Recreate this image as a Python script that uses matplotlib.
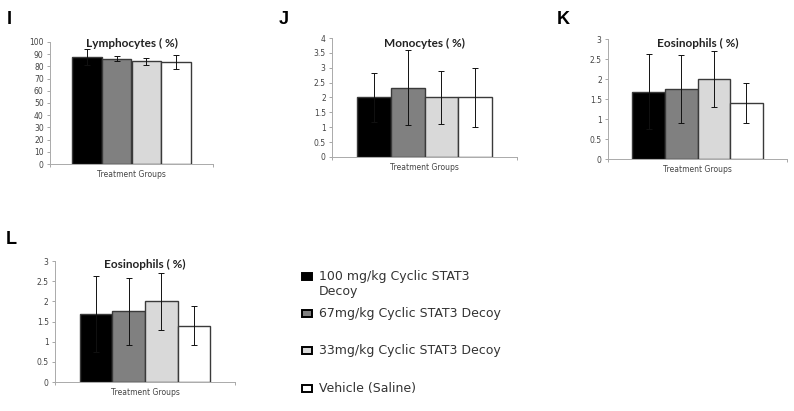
import numpy as np
import matplotlib
matplotlib.use("Agg")
import matplotlib.pyplot as plt
from matplotlib.patches import Rectangle

# ================= DATA =================
groups = ["100 mg/kg Cyclic STAT3\nDecoy", "67mg/kg Cyclic STAT3 Decoy",
          "33mg/kg Cyclic STAT3 Decoy", "Vehicle (Saline)"]
bar_colors = ["#000000", "#808080", "#d9d9d9", "#ffffff"]

lymph_mean = [87.7, 86.3, 84.1, 83.6]
lymph_err = [6.5, 2.1, 3.0, 5.6]

mono_mean = [2.0, 2.33, 2.0, 2.0]
mono_err = [0.82, 1.26, 0.9, 1.0]

eos_mean = [1.68, 1.75, 2.0, 1.4]
eos_err = [0.94, 0.84, 0.71, 0.49]

# ================= FIGURE =================
W, H = 794, 411
fig = plt.figure(figsize=(W / 100, H / 100), dpi=100)


def px_axes(left, top, right, bottom):
    return fig.add_axes([left / W, 1 - bottom / H, (right - left) / W, (bottom - top) / H])


def panel(ax, means, errs, title, title_dy, ymax, ystep):
    x = np.arange(len(means))
    ax.bar(x, means, width=1.0, color=bar_colors, edgecolor="#3a3a3a", linewidth=1.0, zorder=2)
    ax.errorbar(x, means, yerr=errs, fmt="none", ecolor="#111111", elinewidth=0.7,
                capsize=2, capthick=0.7, zorder=3)
    ax.set_xlim(-1.25, 4.25)
    ax.set_ylim(0, ymax)
    ticks = np.arange(0, ymax + ystep / 2, ystep)
    ax.set_yticks(ticks)
    ax.set_yticklabels(["%g" % t for t in ticks])
    ax.set_xticks([-1.25, 4.25])
    ax.set_xticklabels([])
    ax.tick_params(axis="both", length=2.5, width=0.6, color="#999999",
                   labelsize=5.5, labelcolor="#444444", pad=2)
    for s in ["top", "right"]:
        ax.spines[s].set_visible(False)
    for s in ["left", "bottom"]:
        ax.spines[s].set_color("#aaaaaa")
        ax.spines[s].set_linewidth(0.7)
    ax.annotate(title, xy=(0.5, 1.0), xycoords="axes fraction",
                xytext=(0, -title_dy), textcoords="offset pixels",
                ha="center", va="center", fontsize=8.5, fontweight="bold",
                family="Lato", color="#222222")
    ax.annotate("Treatment Groups", xy=(0.5, 0.0), xycoords="axes fraction",
                xytext=(0, -10.5), textcoords="offset pixels",
                ha="center", va="center", fontsize=5.5, color="#444444")
    ax.patch.set_alpha(0)


# ================= PANELS =================
ax_i = px_axes(50, 42, 213, 164)
panel(ax_i, lymph_mean, lymph_err, "Lymphocytes ( %)", 1, 100, 10)

ax_j = px_axes(332, 38, 517, 157)
panel(ax_j, mono_mean, mono_err, "Monocytes ( %)", 5, 4, 0.5)

ax_k = px_axes(608, 39, 787, 159)
panel(ax_k, eos_mean, eos_err, "Eosinophils ( %)", 4, 3, 0.5)

ax_l = px_axes(55, 261, 235, 382)
panel(ax_l, eos_mean, eos_err, "Eosinophils ( %)", 3, 3, 0.5)

# panel letters
letters = [("I", 7, 20), ("J", 279, 20), ("K", 557, 20), ("L", 6, 240)]
for txt, lx, ly in letters:
    fig.text(lx / W, 1 - ly / H, txt, fontsize=13, fontweight="bold",
             family="Liberation Sans", va="center", ha="left")

# ================= LEGEND =================
leg_y = [276, 313, 350, 388]
for lab, col, ly in zip(groups, bar_colors, leg_y):
    fig.patches.append(Rectangle((302 / W, 1 - (ly + 3.5) / H), 10 / W, 7 / H,
                                 transform=fig.transFigure, facecolor=col,
                                 edgecolor="#000000", linewidth=1.4))
    fig.text(319 / W, 1 - (ly - 6.5) / H, lab, fontsize=9, color="#333333",
             va="top", ha="left", linespacing=1.25)

fig.savefig("out.png", dpi=100)
